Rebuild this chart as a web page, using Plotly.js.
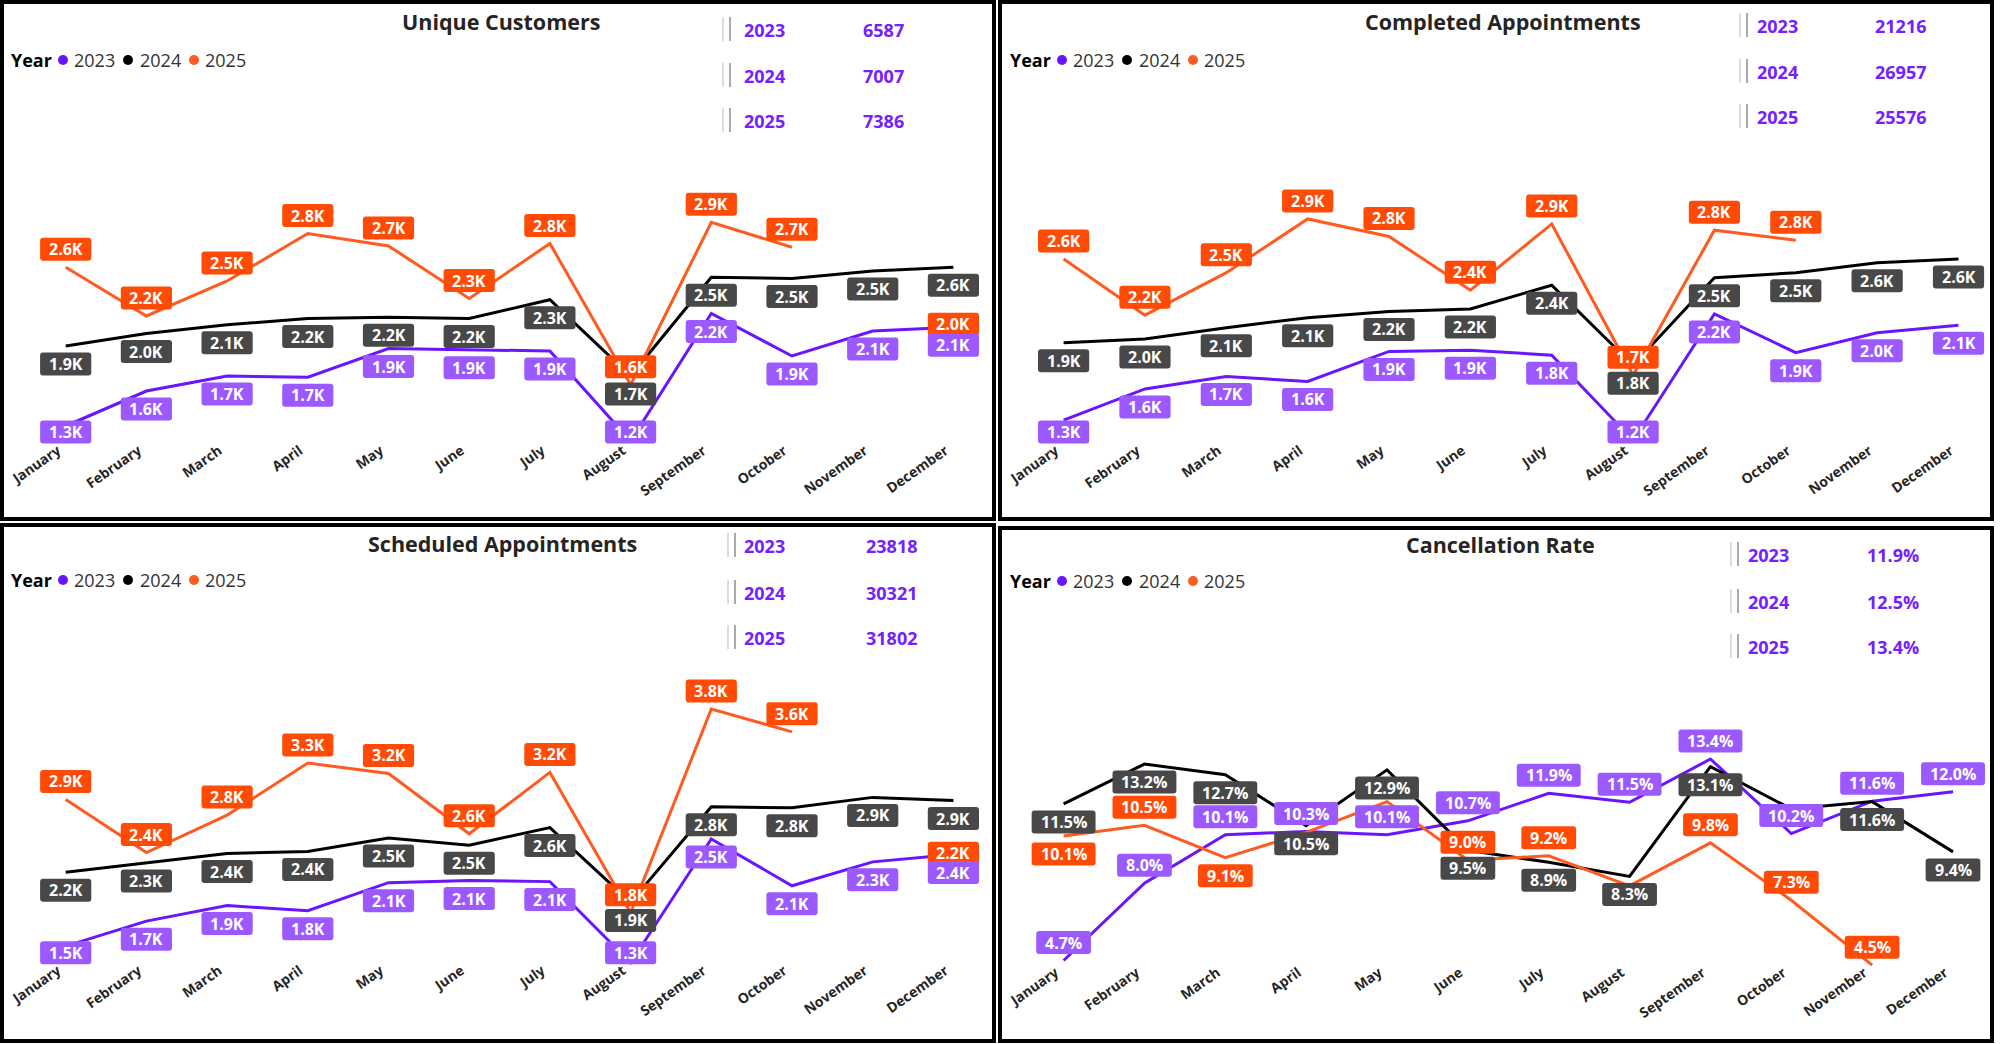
<!DOCTYPE html>
<html><head><meta charset="utf-8">
<script src="https://cdn.plot.ly/plotly-3.0.1.min.js"></script>
<style>html,body{margin:0;padding:0;background:#fff;}#chart{width:2000px;height:1044px;}</style>
</head><body><div id="chart"></div>
<script>
// ---------------- DATA ----------------
const months = ['January','February','March','April','May','June','July','August','September','October','November','December'];
const years = ['2023','2024','2025'];

// Unique Customers (thousands)
const customers2023 = [1.30, 1.58, 1.70, 1.69, 1.92, 1.91, 1.90, 1.18, 2.20, 1.86, 2.06, 2.09];
const customers2024 = [1.94, 2.04, 2.11, 2.16, 2.17, 2.16, 2.31, 1.70, 2.49, 2.48, 2.54, 2.57];
const customers2025 = [2.57, 2.18, 2.46, 2.84, 2.74, 2.32, 2.76, 1.63, 2.93, 2.73, null, 1.97];
const customersTotals = [6587, 7007, 7386];

// Completed Appointments (thousands)
const completed2023 = [1.32, 1.57, 1.67, 1.63, 1.87, 1.88, 1.84, 1.16, 2.17, 1.86, 2.02, 2.08];
const completed2024 = [1.94, 1.97, 2.06, 2.14, 2.19, 2.21, 2.40, 1.76, 2.46, 2.50, 2.58, 2.61];
const completed2025 = [2.61, 2.16, 2.50, 2.93, 2.79, 2.36, 2.89, 1.68, 2.84, 2.76, null, null];
const completedTotals = [21216, 26957, 25576];

// Scheduled Appointments (thousands)
const scheduled2023 = [1.50, 1.74, 1.89, 1.84, 2.11, 2.13, 2.12, 1.34, 2.53, 2.08, 2.31, 2.38];
const scheduled2024 = [2.21, 2.30, 2.39, 2.41, 2.54, 2.47, 2.64, 1.92, 2.84, 2.83, 2.93, 2.90];
const scheduled2025 = [2.91, 2.40, 2.76, 3.26, 3.16, 2.58, 3.17, 1.82, 3.78, 3.56, null, 2.22];
const scheduledTotals = [23818, 30321, 31802];

// Cancellation Rate (%)
const cancel2023 = [4.70, 8.04, 10.13, 10.27, 10.13, 10.73, 11.92, 11.53, 13.40, 10.18, 11.58, 11.99];
const cancel2024 = [11.46, 13.18, 12.72, 10.52, 12.93, 9.46, 8.94, 8.33, 13.07, 11.24, 11.56, 9.39];
const cancel2025 = [10.08, 10.54, 9.14, 10.23, 11.56, 9.03, 9.22, 7.92, 9.78, 7.30, 4.50, null];
const cancelTotals = [11.9, 12.5, 13.4];

// ---------------- STYLE / LAYOUT ----------------
const W = 2000, H = 1044;
const FONT = 'Open Sans, sans-serif';
const lineColors = ['#6A14FF', '#000000', '#FF5A1F'];
const labelColors = ['#9B59FF', '#484848', '#FF4B05'];
const kpiColor = '#7420FF';

const panels = [
  {title:'Unique Customers', data:[customers2023, customers2024, customers2025], totals:customersTotals, unit:'K',
   titleX:501, titleY:22, legendX:9, legendY:60,
   kpi:{bar:722, year:742, value:861, rows:[30,76,121]},
   xJan:65.7, xDec:953.4, top:140, bottom:446, y0:423.5, v0:1.32, s:125, clampMax:432,
   pos:['bbbbbbbbbbbb','bbbbbbbbbbbb','aaaaaaaaaaaa'],
   border:[2,2,994,519]},
  {title:'Completed Appointments', data:[completed2023, completed2024, completed2025], totals:completedTotals, unit:'K',
   titleX:1503, titleY:22, legendX:1008, legendY:60,
   kpi:{bar:1739, year:1755, value:1873, rows:[26,72,117]},
   xJan:1063.6, xDec:1958.5, top:140, bottom:446, y0:420.2, v0:1.32, s:125, clampMax:432,
   pos:['bbbbbbbbbbbb','bbbbbbbbbbbb','aaaaaaaaaaaa'],
   border:[1000,2,1992,519]},
  {title:'Scheduled Appointments', data:[scheduled2023, scheduled2024, scheduled2025], totals:scheduledTotals, unit:'K',
   titleX:502, titleY:543, legendX:9, legendY:580,
   kpi:{bar:727, year:742, value:864, rows:[546,593,638]},
   xJan:65.7, xDec:953.4, top:660, bottom:966, y0:946.1, v0:1.5, s:104, clampMax:952.8,
   pos:['bbbbbbbbbbbb','bbbbbbbbbbbb','aaaaaaaaaaaa'],
   border:[2,525,994,1041]},
  {title:'Cancellation Rate', data:[cancel2023, cancel2024, cancel2025], totals:cancelTotals, unit:'%',
   titleX:1500, titleY:544, legendX:1008, legendY:581,
   kpi:{bar:1730, year:1746, value:1865, rows:[555,602,647]},
   xJan:1063.6, xDec:1953, top:660, bottom:968, y0:960.5, v0:4.7, s:23.16, clampMax:2000,
   pos:['aaaaaaaaaaaa','bbbbbbbbb-bb','bab--aa-aaa-'],
   border:[1000,528,1992,1041]}
];

const px2x = p => p / W;
const px2y = p => 1 - p / H;

function fmt(v, unit) { return v.toFixed(1) + unit; }
function textW(t, size) {
  let w = 0;
  for (const c of t) w += (c >= '0' && c <= '9') ? 0.572 : c === '.' ? 0.281 : c === 'K' ? 0.65 : c === '%' ? 0.872 : 0.6;
  return w * size;
}
function rr(x0, y0, x1, y1, r) {
  return `M${x0+r},${y0} L${x1-r},${y0} Q${x1},${y0} ${x1},${y0+r} L${x1},${y1-r} Q${x1},${y1} ${x1-r},${y1} ` +
         `L${x0+r},${y1} Q${x0},${y1} ${x0},${y1-r} L${x0},${y0+r} Q${x0},${y0} ${x0+r},${y0} Z`;
}

const traces = [];
const shapes = [];
const annotations = [];
const layout = {
  width: W, height: H, margin: {l:0, r:0, t:0, b:0},
  paper_bgcolor: '#ffffff', plot_bgcolor: 'rgba(0,0,0,0)',
  showlegend: false, font: {family: FONT}
};

panels.forEach((p, i) => {
  const sfx = i === 0 ? '' : String(i + 1);
  const xa = 'x' + sfx, ya = 'y' + sfx;
  const step = (p.xDec - p.xJan) / 11;
  const left = p.xJan - 0.5 * step, right = p.xDec + 0.5 * step;
  const vBottom = p.v0 + (p.y0 - p.bottom) / p.s;
  const vTop = p.v0 + (p.y0 - p.top) / p.s;

  layout['xaxis' + sfx] = {
    domain: [px2x(left), px2x(right)], range: [-0.5, 11.5], type: 'category', anchor: ya,
    tickangle: -35, tickfont: {family: FONT, size: 14, color: '#252423', weight: 700},
    ticklabelshift: -8, ticklabelstandoff: -7,
    showgrid: false, zeroline: false, showline: false, ticks: '', dtick: 1, fixedrange: true
  };
  layout['yaxis' + sfx] = {
    domain: [px2y(p.bottom), px2y(p.top)], range: [vBottom, vTop], anchor: xa,
    visible: false, showgrid: false, zeroline: false, fixedrange: true
  };

  p.data.forEach((series, j) => {
    traces.push({
      x: months, y: series, type: 'scatter', mode: 'lines', name: years[j],
      line: {color: lineColors[j], width: 3}, connectgaps: false,
      xaxis: xa, yaxis: ya, hoverinfo: 'skip', showlegend: false
    });
  });

  // data labels
  [2, 1, 0].forEach(j => {
    const series = p.data[j];
    series.forEach((v, k) => {
      if (v === null || v === undefined) return;
      const mode = p.pos[j][k];
      if (mode === '-') return;
      const py = p.y0 - (v - p.v0) * p.s;
      let c = mode === 'a' ? py - 18 : py + 18;
      if (c > p.clampMax) c = p.clampMax;
      const shift = py - c;
      const txt = fmt(v, p.unit);
      const w = textW(txt, 16) + 18, h = 23;
      shapes.push({
        type: 'path', xref: xa, yref: ya, xsizemode: 'pixel', ysizemode: 'pixel',
        xanchor: k, yanchor: v, layer: 'above',
        path: rr(-w/2, shift - h/2, w/2, shift + h/2, 3),
        fillcolor: labelColors[j], line: {width: 0}
      });
      annotations.push({
        xref: xa, yref: ya, x: k, y: v, yshift: shift, text: txt, showarrow: false,
        xanchor: 'center', yanchor: 'middle',
        font: {family: FONT, size: 16, color: '#ffffff', weight: 700}
      });
    });
  });

  // title
  annotations.push({
    xref: 'paper', yref: 'paper', x: px2x(p.titleX), y: px2y(p.titleY), text: p.title,
    showarrow: false, xanchor: 'center', yanchor: 'middle',
    font: {family: FONT, size: 21.5, color: '#252423', weight: 700}
  });

  // legend
  annotations.push({
    xref: 'paper', yref: 'paper', x: px2x(p.legendX), y: px2y(p.legendY), text: 'Year',
    showarrow: false, xanchor: 'left', yanchor: 'middle',
    font: {family: FONT, size: 18, color: '#000000', weight: 700}
  });
  const dotOff = [54, 119, 185], txtOff = [63, 129, 194];
  years.forEach((yr, j) => {
    const cx = p.legendX + dotOff[j];
    shapes.push({
      type: 'circle', xref: 'paper', yref: 'paper', layer: 'above',
      x0: px2x(cx - 5), x1: px2x(cx + 5), y0: px2y(p.legendY + 5), y1: px2y(p.legendY - 5),
      fillcolor: lineColors[j], line: {width: 0}
    });
    annotations.push({
      xref: 'paper', yref: 'paper', x: px2x(p.legendX + txtOff[j]), y: px2y(p.legendY), text: yr,
      showarrow: false, xanchor: 'left', yanchor: 'middle',
      font: {family: FONT, size: 18, color: '#333333', weight: 400}
    });
  });

  // KPI block
  years.forEach((yr, j) => {
    const ry = p.kpi.rows[j];
    shapes.push({type: 'rect', xref: 'paper', yref: 'paper', layer: 'above',
      x0: px2x(p.kpi.bar), x1: px2x(p.kpi.bar + 2), y0: px2y(ry + 11), y1: px2y(ry - 13),
      fillcolor: '#DCDCDC', line: {width: 0}});
    shapes.push({type: 'rect', xref: 'paper', yref: 'paper', layer: 'above',
      x0: px2x(p.kpi.bar + 7), x1: px2x(p.kpi.bar + 9), y0: px2y(ry + 11), y1: px2y(ry - 13),
      fillcolor: '#A9A9A9', line: {width: 0}});
    annotations.push({
      xref: 'paper', yref: 'paper', x: px2x(p.kpi.year), y: px2y(ry), text: yr,
      showarrow: false, xanchor: 'left', yanchor: 'middle',
      font: {family: FONT, size: 18, color: kpiColor, weight: 700}
    });
    const tv = p.unit === '%' ? p.totals[j].toFixed(1) + '%' : String(p.totals[j]);
    annotations.push({
      xref: 'paper', yref: 'paper', x: px2x(p.kpi.value), y: px2y(ry), text: tv,
      showarrow: false, xanchor: 'left', yanchor: 'middle',
      font: {family: FONT, size: 18, color: kpiColor, weight: 700}
    });
  });

  // border
  const b = p.border;
  shapes.push({type: 'rect', xref: 'paper', yref: 'paper', layer: 'above',
    x0: px2x(b[0]), x1: px2x(b[2]), y0: px2y(b[3]), y1: px2y(b[1]),
    line: {color: '#000000', width: 4}, fillcolor: 'rgba(0,0,0,0)'});
});

layout.shapes = shapes;
layout.annotations = annotations;

Plotly.newPlot('chart', traces, layout, {displayModeBar: false, staticPlot: true});
</script>
</body></html>
